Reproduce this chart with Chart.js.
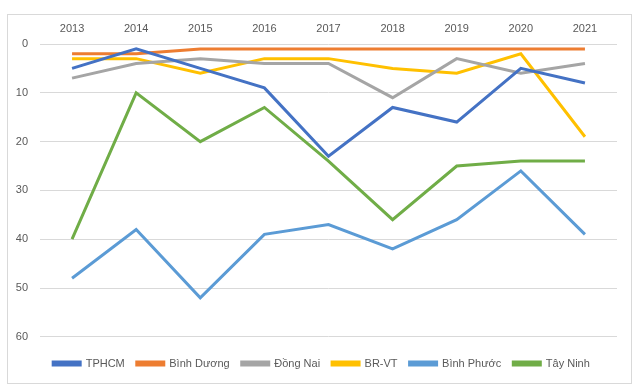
<!DOCTYPE html>
<html>
<head>
<meta charset="utf-8">
<script src="https://cdn.jsdelivr.net/npm/chart.js@4"></script>
<style>
  body { margin: 0; background: #fff; }
  #wrap { position: relative; width: 636px; height: 389px; }
  #frame { position: absolute; left: 7px; top: 14px; width: 623px; height: 368px; border: 1px solid #d9d9d9; pointer-events: none; }
</style>
</head>
<body>
<div id="wrap">
  <canvas id="rank" width="636" height="389"></canvas>
  <div id="frame"></div>
</div>
<script>
var years = ['2013', '2014', '2015', '2016', '2017', '2018', '2019', '2020', '2021'];
var tphcm = [5, 1, 5, 9, 23, 13, 16, 5, 8];
var binhDuong = [2, 2, 1, 1, 1, 1, 1, 1, 1];
var dongNai = [7, 4, 3, 4, 4, 11, 3, 6, 4];
var brvt = [3, 3, 6, 3, 3, 5, 6, 2, 19];
var binhPhuoc = [48, 38, 52, 39, 37, 42, 36, 26, 39];
var tayNinh = [40, 10, 20, 13, 24, 36, 25, 24, 24];

function line(label, data, color) {
    return {
        label: label,
        data: data,
        borderColor: color,
        backgroundColor: color,
        borderWidth: 3,
        pointRadius: 0,
        tension: 0,
        fill: false
    };
}

// nudge the legend a bit to the right, like in the original
var legendShift = {
    id: 'legendShift',
    afterLayout: function (chart) {
        chart.legend.left += 9;
        chart.legend.right += 9;
    }
};

Chart.defaults.font.family = "'Liberation Sans', Arial, sans-serif";
Chart.defaults.color = '#595959';

var rankChart = new Chart(document.getElementById('rank'), {
    type: 'line',
    data: {
        labels: years,
        datasets: [
            line('TPHCM', tphcm, '#4472c4'),
            line('Bình Dương', binhDuong, '#ed7d31'),
            line('Đồng Nai', dongNai, '#a5a5a5'),
            line('BR-VT', brvt, '#ffc000'),
            line('Bình Phước', binhPhuoc, '#5b9bd5'),
            line('Tây Ninh', tayNinh, '#70ad47')
        ]
    },
    plugins: [legendShift],
    options: {
        responsive: false,
        animation: false,
        layout: { padding: { left: 8, top: 14, right: 19, bottom: 10 } },
        plugins: {
            tooltip: { enabled: false },
            legend: {
                position: 'bottom',
                // empty title only used as a spacer above the items
                title: { display: true, text: ' ', font: { size: 1 }, padding: { top: 0, bottom: 8 } },
                labels: {
                    boxWidth: 27,
                    boxHeight: 3,
                    padding: 12,
                    font: { size: 11 }
                }
            }
        },
        scales: {
            x: {
                position: 'top',
                offset: true,
                grid: { display: false },
                border: { display: false },
                ticks: { padding: 0, font: { size: 11 } },
                afterFit: function (s) { s.height = 30; }
            },
            y: {
                reverse: true,
                min: 0,
                max: 60,
                ticks: { stepSize: 10, padding: 12, font: { size: 11 } },
                grid: { color: '#d9d9d9', drawTicks: false },
                border: { display: false },
                afterFit: function (s) { s.width = 32; }
            }
        }
    }
});
</script>
</body>
</html>
